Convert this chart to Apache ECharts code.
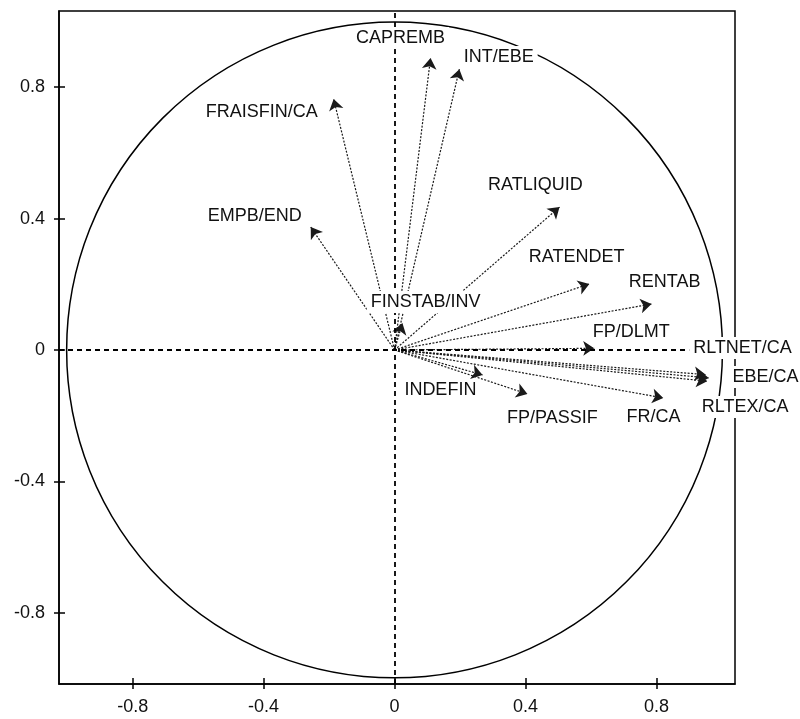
<!DOCTYPE html>
<html>
<head>
<meta charset="utf-8">
<script src="https://cdn.jsdelivr.net/npm/echarts@6/dist/echarts.min.js"></script>
<style>
  html, body { margin: 0; padding: 0; background: #fff; }
  #chart { width: 800px; height: 719px; }
</style>
</head>
<body>
<div id="chart"></div>
<script>
// Variables of the correlation circle (factor 1 vs factor 2)
const varNames = ['CAPREMB', 'INT/EBE', 'FRAISFIN/CA', 'EMPB/END', 'RATLIQUID', 'RATENDET',
  'RENTAB', 'FP/DLMT', 'RLTNET/CA', 'EBE/CA', 'RLTEX/CA', 'FR/CA', 'FP/PASSIF', 'INDEFIN', 'FINSTAB/INV'];
const factor1 = [0.11, 0.198, -0.186, -0.256, 0.504, 0.595, 0.785, 0.61, 0.95, 0.96, 0.955, 0.821, 0.406, 0.269, 0.024];
const factor2 = [0.889, 0.855, 0.764, 0.374, 0.435, 0.201, 0.140, 0.005, -0.075, -0.085, -0.095, -0.146, -0.134, -0.076, 0.082];

// Where each variable name is written (axis units)
const labelX = [0.018, 0.318, -0.406, -0.427, 0.43, 0.556, 0.825, 0.723, 1.063, 1.133, 1.071, 0.791, 0.482, 0.14, 0.095];
const labelY = [0.95, 0.892, 0.725, 0.408, 0.502, 0.283, 0.207, 0.055, 0.006, -0.082, -0.174, -0.204, -0.207, -0.122, 0.146];

const tickValues = [-0.8, -0.4, 0, 0.4, 0.8];

const FONT = '"Liberation Sans", Arial, sans-serif';
const INK = '#111';

const chart = echarts.init(document.getElementById('chart'), null, { renderer: 'canvas' });

const xRange = { min: -1.025, max: 1.04 };
const yRange = { min: -1.017, max: 1.032 };

function mainAxis(range, margin) {
  return {
    type: 'value', min: range.min, max: range.max,
    splitLine: { show: false },
    axisLine: { show: true, onZero: false, lineStyle: { color: '#000', width: 1.5 } },
    axisTick: { show: true, customValues: tickValues, length: 5, lineStyle: { color: '#000', width: 1.5 } },
    axisLabel: { show: true, customValues: tickValues, margin: margin, color: INK, fontFamily: FONT, fontSize: 18,
      formatter: v => String(v) }
  };
}
function innerTickAxis(range) {
  return {
    type: 'value', min: range.min, max: range.max,
    splitLine: { show: false },
    axisLine: { show: false, onZero: false },
    axisTick: { show: true, inside: true, customValues: tickValues, length: 6, lineStyle: { color: '#000', width: 1.5 } },
    axisLabel: { show: false }
  };
}

const xA = mainAxis(xRange, 14); xA.position = 'bottom';
const xB = innerTickAxis(xRange); xB.position = 'bottom';
const yA = mainAxis(yRange, 14); yA.position = 'left';
const yB = innerTickAxis(yRange); yB.position = 'left';

const arrowData = varNames.map((n, i) => ({ name: n, coords: [[0, 0], [factor1[i], factor2[i]]] }));
const labelData = varNames.map((n, i) => [labelX[i], labelY[i], n]);

chart.setOption({
  animation: false,
  backgroundColor: '#fff',
  grid: { left: 59, right: 65, top: 11, bottom: 35, show: true, borderColor: '#000', borderWidth: 1.5, backgroundColor: 'transparent' },
  xAxis: [xA, xB],
  yAxis: [yA, yB],
  series: [
    {
      // unit circle plus the two dashed axes through the origin
      type: 'custom',
      coordinateSystem: 'cartesian2d',
      xAxisIndex: 0, yAxisIndex: 0,
      z: 1,
      data: [[0, 0]],
      renderItem: (params, api) => {
        const c = api.coord([0, 0]);
        const s = api.size([1, 1]);
        return {
          type: 'circle',
          shape: { cx: c[0], cy: c[1], r: (s[0] + s[1]) / 2 },
          style: { fill: 'none', stroke: '#000', lineWidth: 1.5 }
        };
      },
      markLine: {
        silent: true, symbol: 'none', animation: false,
        label: { show: false },
        lineStyle: { color: '#000', type: [5, 4], width: 1.8 },
        data: [{ xAxis: 0 }, { yAxis: 0 }]
      }
    },
    {
      type: 'lines',
      coordinateSystem: 'cartesian2d',
      xAxisIndex: 0, yAxisIndex: 0,
      z: 3,
      symbol: ['none', 'arrow'],
      symbolSize: 11,
      lineStyle: { color: '#1a1a1a', width: 1.2, type: [2, 1.5], opacity: 1, curveness: 0 },
      data: arrowData
    },
    {
      type: 'custom',
      coordinateSystem: 'cartesian2d',
      xAxisIndex: 0, yAxisIndex: 0,
      z: 10,
      clip: false,
      data: labelData,
      renderItem: (params, api) => {
        const p = api.coord([api.value(0), api.value(1)]);
        return {
          type: 'text',
          x: p[0], y: p[1],
          style: {
            text: labelData[params.dataIndex][2],
            font: '18px ' + FONT,
            fill: INK,
            align: 'center',
            verticalAlign: 'middle',
            backgroundColor: '#fff',
            padding: [2, 4]
          }
        };
      }
    }
  ]
});
</script>
</body>
</html>
